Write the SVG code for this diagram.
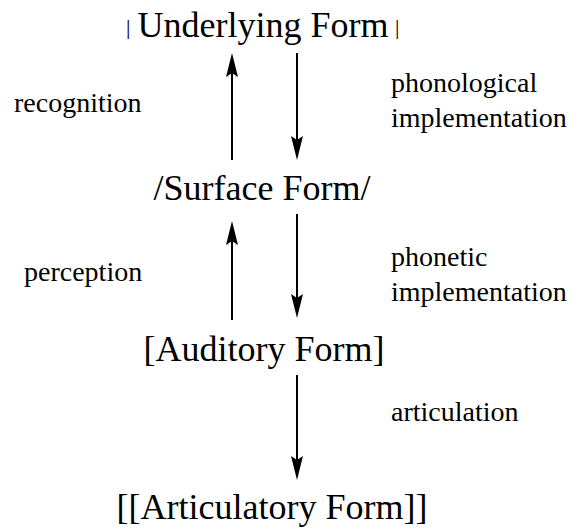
<svg xmlns="http://www.w3.org/2000/svg" width="579" height="529" viewBox="0 0 579 529">
<rect width="579" height="529" fill="#fff"/>
<g id="underlying"><text font-family="Liberation Serif" font-size="22" x="126" y="34">|</text><text font-family="Liberation Serif" font-size="36" x="263" y="37" text-anchor="middle">Underlying Form</text><text font-family="Liberation Serif" font-size="22" x="395" y="34">|</text></g>
<g id="surface"><text font-family="Liberation Serif" font-size="36" x="262" y="200" text-anchor="middle">/Surface Form/</text></g>
<g id="auditory"><text font-family="Liberation Serif" font-size="36" x="264" y="361" text-anchor="middle">[Auditory Form]</text></g>
<g id="articulatory"><text font-family="Liberation Serif" font-size="36" x="272" y="519" text-anchor="middle">[[Articulatory Form]]</text></g>
<g id="labels">
<text font-family="Liberation Serif" font-size="28" x="14" y="112">recognition</text>
<text font-family="Liberation Serif" font-size="28" x="391" y="92">phonological</text>
<text font-family="Liberation Serif" font-size="28" x="391" y="127">implementation</text>
<text font-family="Liberation Serif" font-size="28" x="24" y="281">perception</text>
<text font-family="Liberation Serif" font-size="28" x="391" y="266">phonetic</text>
<text font-family="Liberation Serif" font-size="28" x="391" y="301">implementation</text>
<text font-family="Liberation Serif" font-size="28" x="391" y="421">articulation</text>
</g>
<g id="connectors">
<line x1="232" y1="160" x2="232" y2="70" stroke="#000" stroke-width="2"/>
<path d="M232,53 L238,77 L232,73 L226,77 Z" fill="#000"/>
<line x1="297" y1="53" x2="297" y2="143" stroke="#000" stroke-width="2"/>
<path d="M297,160 L303,136 L297,140 L291,136 Z" fill="#000"/>
<line x1="232" y1="320" x2="232" y2="238" stroke="#000" stroke-width="2"/>
<path d="M232,221 L238,245 L232,241 L226,245 Z" fill="#000"/>
<line x1="297" y1="214" x2="297" y2="301" stroke="#000" stroke-width="2"/>
<path d="M297,318 L303,294 L297,298 L291,294 Z" fill="#000"/>
<line x1="297" y1="375" x2="297" y2="463" stroke="#000" stroke-width="2"/>
<path d="M297,480 L303,456 L297,460 L291,456 Z" fill="#000"/>
</g>
</svg>
